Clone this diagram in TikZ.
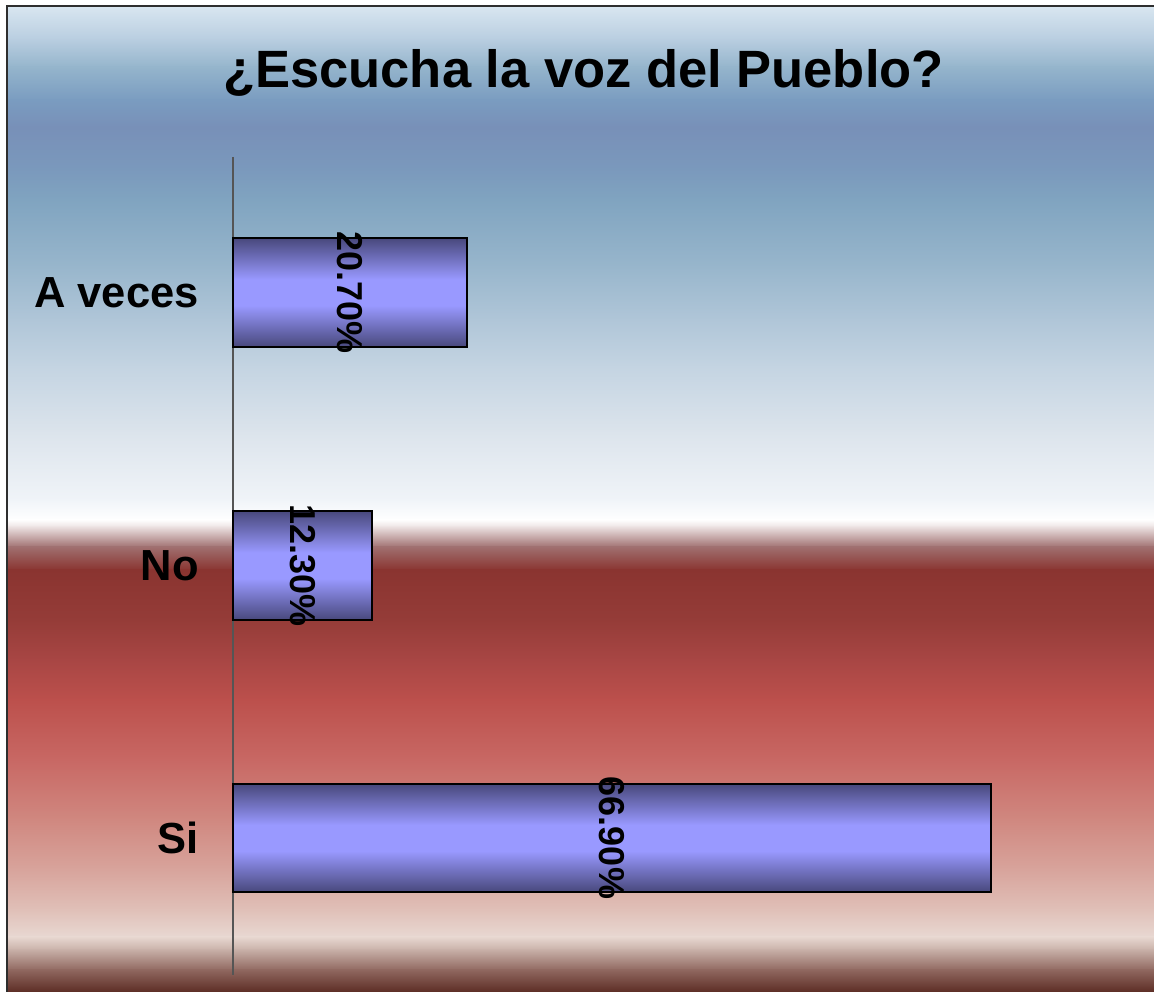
\documentclass[tikz,border=0pt]{standalone}
\usepackage{fontspec}
\setmainfont{Liberation Sans}
\usepackage{tikz}
\usetikzlibrary{positioning}

\definecolor{barDark}{HTML}{48487C}
\definecolor{barLight}{HTML}{9999FF}
\definecolor{frameCol}{HTML}{2E2E2E}
\definecolor{axisCol}{HTML}{555555}

\pgfdeclareverticalshading{barshade}{100bp}{color(0bp)=(barDark); color(25bp)=(barDark);
  color(44bp)=(barLight); color(56bp)=(barLight); color(75bp)=(barDark); color(100bp)=(barDark)}

\tikzset{
  bar/.style={draw=black, line width=2pt, shade, shading=barshade},
  catlabel/.style={anchor=east, font=\fontsize{43.5}{50}\selectfont\bfseries, inner sep=0pt},
  pctlabel/.style={rotate=-90, font=\fontsize{36}{42}\selectfont\bfseries, inner sep=0pt}
}

\begin{document}
\begin{tikzpicture}[x=1pt,y=1pt]
\useasboundingbox (0,0) rectangle (1154,992);
% background bands
\foreach \ya/\ca/\yb/\cb in {985/D8E6F0/952/B8CDE0, 952/B8CDE0/925/95B5CC, 925/95B5CC/892/7A9CC0,
  892/7A9CC0/865/7890B8, 865/7890B8/825/7A98BC, 825/7A98BC/792/80A4C0, 792/80A4C0/725/98B6CC,
  725/98B6CC/672/B0C6D8, 672/B0C6D8/625/C4D4E2, 625/C4D4E2/559/DCE4EC, 559/DCE4EC/492/F0F4F8,
  492/F0F4F8/472/FFFFFF, 472/FFFFFF/465/ECE2E2, 465/ECE2E2/445/A07070, 445/A07070/422/8A3430,
  422/8A3430/372/953C38, 372/953C38/332/A84644, 332/A84644/292/BC504C, 292/BC504C/232/C86864,
  232/C86864/172/D08880, 172/D08880/122/D8A49C, 122/D8A49C/82/E0C0B8, 82/E0C0B8/55/E8D8D2,
  55/E8D8D2/42/C8B0A8, 42/C8B0A8/22/906860, 22/906860/0/5C2C24} {
  \definecolor{cA}{HTML}{\ca}
  \definecolor{cB}{HTML}{\cb}
  \shade[top color=cA, bottom color=cB] (7,\ya+0.5) rectangle (1154,\yb-0.5);
}
% frame
\draw[frameCol, line width=2pt] (7,0) -- (7,985.5) -- (1154,985.5);

% title
\node[font=\fontsize{52.5}{60}\selectfont\bfseries, anchor=base] (title) at (583.5,904) {¿Escucha la voz del Pueblo?};

% axis
\coordinate (axtop) at (233,835);
\coordinate (axbot) at (233,17);
\draw[axisCol, line width=1.2pt] (axtop) -- (axbot);

% bars (11.33 px per percent)
\draw[bar] (233,645) rectangle (467,754);
\draw[bar] (233,372) rectangle (372,481);
\draw[bar] (233,100) rectangle (991,208);

\node[pctlabel] (pctA) at (350,699.5) {20.70\%};
\node[pctlabel] (pctN) at (302.5,426.5) {12.30\%};
\node[pctlabel] (pctS) at (612,154) {66.90\%};

% categories
\node[catlabel] (catA) at (199,699.5) {A veces};
\node[catlabel] (catN) at (199,426.5) {No};
\node[catlabel] (catS) at (199,154) {Si};
\end{tikzpicture}
\end{document}
